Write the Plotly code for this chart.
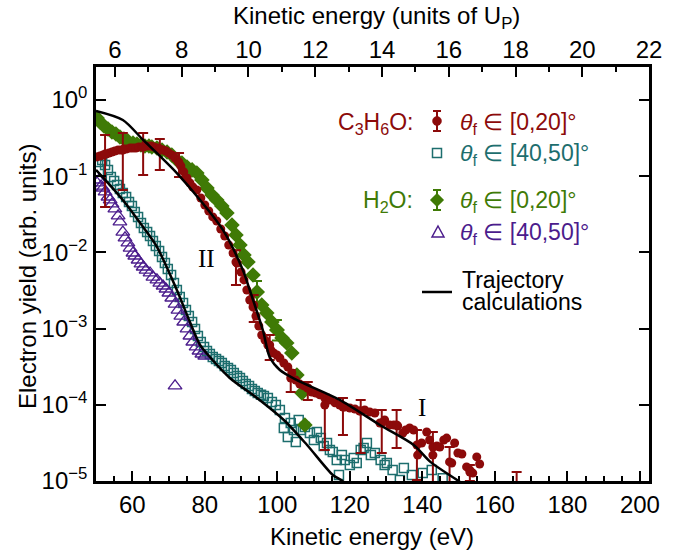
import plotly.graph_objects as go

# ---------------- data ----------------
UP_EV = 9.205  # eV per unit of Up (top axis conversion)

acetone_0_20_E = [50.3, 51.1, 51.9, 52.8, 53.6, 54.4, 55.2, 56.1, 56.9, 57.7, 58.5, 59.4, 60.2, 61.0, 61.8, 62.7,
                  63.5, 64.3, 65.2, 66.0, 66.8, 67.6, 68.5, 69.3, 70.1, 70.9, 71.8, 72.6, 73.4, 74.2, 75.1, 75.9,
                  76.7, 77.8, 78.9, 80.0, 81.1, 82.2, 83.3, 84.4, 85.5, 86.6, 87.8, 88.9, 90.0, 90.8, 91.6, 92.4,
                  93.3, 94.1, 94.9, 95.7, 96.6, 97.4, 98.2, 99.0, 99.9, 100.7, 101.8, 102.9, 104.0, 105.1, 106.2,
                  107.3, 108.4, 109.5, 110.6, 111.7, 113.1, 114.5, 115.9, 117.2, 118.6, 120.0, 121.4, 122.7, 124.1,
                  125.5, 126.9, 128.3, 129.6, 131.0, 132.1, 133.2, 134.6, 135.4, 136.5, 137.6, 138.7, 139.8, 141.2,
                  142.0, 142.9, 144.0, 144.8, 145.9, 146.7, 148.1, 148.9, 149.8, 150.9, 152.2, 153.1, 153.9, 155.0,
                  155.8]
acetone_0_20_Y = [0.179, 0.184, 0.190, 0.195, 0.201, 0.208, 0.214, 0.221, 0.221, 0.228, 0.228, 0.234, 0.234, 0.234,
                  0.242, 0.242, 0.249, 0.249, 0.249, 0.242, 0.234, 0.228, 0.221, 0.214, 0.201, 0.190, 0.173, 0.158,
                  0.136, 0.114, 0.0946, 0.0815, 0.0721, 0.0659, 0.0518, 0.0419, 0.0349, 0.0292, 0.0258, 0.0203,
                  0.0164, 0.0125, 0.00982, 0.00726, 0.00553, 0.00435, 0.00321, 0.00237, 0.00192, 0.00146, 0.00108,
                  8.24e-4, 7.08e-4, 6.10e-4, 5.24e-4, 4.79e-4, 4.51e-4, 4.11e-4, 3.54e-4, 3.13e-4, 2.61e-4, 2.11e-4,
                  1.87e-4, 1.77e-4, 1.66e-4, 1.47e-4, 1.43e-4, 1.35e-4, 1.23e-4, 1.16e-4, 1.06e-4, 9.93e-5, 9.35e-5,
                  9.08e-5, 8.81e-5, 8.30e-5, 8.55e-5, 8.05e-5, 7.80e-5, 5.77e-5, 6.32e-5, 5.43e-5, 5.43e-5, 5.27e-5,
                  4.27e-5, 4.67e-5, 4.96e-5, 4.67e-5, 2.19e-5, 3.15e-5, 4.40e-5, 3.45e-5, 2.79e-5, 2.88e-5, 2.79e-5,
                  3.45e-5, 3.66e-5, 1.72e-5, 3.15e-5, 2.33e-5, 2.26e-5, 1.53e-5, 1.39e-5, 1.27e-5, 2.07e-5, 1.67e-5]

# points of the acetone [0,20] series that carry error bars
acetone_err_E = [52.5, 57.4, 63.0, 67.6, 72.9, 88.6, 93.5, 97.9, 103.7, 108.4, 113.1, 118.1, 123.0, 128.8, 132.9,
                 138.5, 142.9, 147.5, 153.1, 166.0]
acetone_err_Y = [0.195, 0.221, 0.242, 0.228, 0.150, 0.00748, 0.00204, 6.10e-4, 2.25e-4, 1.66e-4, 9.93e-5, 9.35e-5,
                 8.30e-5, 5.77e-5, 5.43e-5, 2.97e-5, 2.19e-5, 1.78e-5, 1.31e-5, 7.5e-6]
acetone_err_top = [0.347, 0.369, 0.369, 0.308, 0.201, 0.0107, 0.00275, 8.24e-4, 2.86e-4, 1.99e-4, 1.35e-4, 1.23e-4,
                   1.16e-4, 8.55e-5, 8.55e-5, 4.67e-5, 4.40e-5, 2.79e-5, 1.62e-5, 1.31e-5]
acetone_err_bottom = [0.0394, 0.0659, 0.104, 0.121, 0.0977, 0.00374, 0.00122, 3.87e-4, 1.47e-4, 1.16e-4, 2.55e-5,
                      4.01e-5, 2.33e-5, 2.33e-5, 2.71e-5, 1.03e-5, 8e-6, 9e-6, 1.0e-5, 5e-6]

acetone_40_50_E = [50.6, 51.7, 52.5, 53.3, 54.1, 55.0, 55.8, 56.6, 57.4, 58.3, 59.1, 59.9, 60.7, 61.6, 62.4, 63.2,
                   64.1, 64.9, 65.7, 66.5, 67.4, 68.2, 69.0, 69.8, 70.7, 71.5, 72.3, 73.1, 74.0, 74.8, 75.6, 76.5,
                   77.3, 78.1, 78.9, 79.8, 80.6, 81.4, 82.2, 83.1, 83.9, 84.7, 85.5, 86.4, 87.2, 88.0, 88.9, 89.7,
                   90.5, 91.3, 92.2, 93.0, 93.8, 94.6, 95.5, 96.3, 97.4, 98.5, 99.6, 100.7, 101.8, 102.1, 102.9,
                   103.7, 104.6, 105.1, 105.9, 106.5, 107.6, 109.0, 110.1, 110.9, 112.0, 112.8, 113.7, 114.5, 115.3,
                   116.4, 117.0, 117.8, 118.6, 120.0, 121.1, 121.9, 123.0, 123.8, 124.7, 125.8, 126.9, 128.5, 129.6,
                   130.2, 131.8, 133.8, 134.9, 137.1, 140.1, 142.6, 145.6]
acetone_40_50_Y = [0.154, 0.163, 0.140, 0.121, 0.0977, 0.0865, 0.0767, 0.0679, 0.0603, 0.0533,
                   0.0458, 0.0406, 0.0339, 0.0292, 0.0243, 0.0209, 0.0185, 0.0164, 0.0141, 0.0121,
                   0.0104, 0.00871, 0.00726, 0.00605, 0.00505, 0.00396, 0.00321, 0.00260, 0.00217, 0.00175,
                   0.00146, 0.00122, 9.89e-4, 8.00e-4, 6.67e-4, 5.74e-4, 5.08e-4, 4.64e-4, 4.24e-4, 3.99e-4,
                   3.76e-4, 3.54e-4, 3.23e-4, 3.04e-4, 2.86e-4, 2.61e-4, 2.39e-4, 2.25e-4, 2.05e-4, 1.87e-4,
                   1.77e-4, 1.61e-4, 1.52e-4, 1.43e-4, 1.35e-4, 1.30e-4, 1.23e-4, 1.09e-4, 9.93e-5, 8.55e-5,
                   4.96e-5, 6.71e-5, 3.78e-5, 5.77e-5, 4.67e-5, 3.25e-5, 6.32e-5, 4.67e-5, 5.11e-5, 4.27e-5,
                   3.45e-5, 4.40e-5, 3.66e-5, 2.88e-5, 3.15e-5, 2.55e-5, 2.40e-5, 1.89e-5, 1.20e-5, 2.19e-5,
                   1.89e-5, 1.62e-5, 2.00e-5, 1.72e-5, 2.55e-5, 2.71e-5, 3.15e-5, 2.19e-5, 2.33e-5, 1.89e-5,
                   1.62e-5, 1.72e-5, 1.39e-5, 1.03e-5, 1.48e-5, 1.20e-5, 1.27e-5, 1.39e-5, 1.09e-5]

water_0_20_E = [50.3, 51.1, 52.2, 53.3, 54.4, 55.5, 56.6, 57.7, 58.8, 60.2, 61.3, 62.4, 63.5, 64.6, 65.4, 66.8,
                68.2, 69.6, 70.9, 72.3, 73.7, 75.1, 76.5, 77.8, 79.2, 80.6, 82.0, 83.3, 84.7, 86.1, 87.5, 88.6,
                89.7, 90.8, 91.9, 93.3, 94.4, 95.7, 97.1, 98.5, 99.9, 101.3, 102.6, 104.0, 105.4, 106.8, 107.6]
water_0_20_Y = [0.580, 0.514, 0.456, 0.416, 0.380, 0.358, 0.327, 0.308, 0.290, 0.273, 0.265, 0.257, 0.249, 0.249,
                0.242, 0.234, 0.221, 0.208, 0.190, 0.163, 0.149, 0.132, 0.121, 0.110, 0.0891, 0.0700, 0.0566,
                0.0488, 0.0406, 0.0329, 0.0229, 0.0169, 0.0125, 0.00925, 0.00748, 0.00505, 0.00302, 0.00204,
                0.00160, 0.00122, 9.59e-4, 7.53e-4, 6.47e-4, 4.79e-4, 2.46e-4, 1.43e-4, 5.43e-5]

water_err_E = [94.4, 99.9]
water_err_Y = [0.00302, 9.59e-4]
water_err_top = [0.0042, 0.00130]
water_err_bottom = [0.0021, 7.0e-4]

water_40_50_E = [50.3, 50.8, 51.4, 51.9, 52.5, 53.3, 53.9, 54.4, 55.2, 56.1, 56.6, 57.4, 58.0, 58.8, 59.4, 60.2,
                 60.7, 61.6, 62.4, 63.0, 63.8, 64.9, 65.7, 66.8, 67.6, 68.5, 69.3, 70.1, 70.9, 71.8, 72.6, 73.4,
                 74.2, 75.1, 75.9, 76.7, 77.6, 78.4, 79.2, 80.0, 71.8]
water_40_50_Y = [0.0815, 0.0891, 0.0743, 0.0700, 0.0621, 0.0533, 0.0488, 0.0432, 0.0372, 0.0301,
                 0.0251, 0.0185, 0.0155, 0.0133, 0.0114, 0.00982, 0.00897, 0.00795, 0.00705, 0.00643,
                 0.00587, 0.00537, 0.00475, 0.00435, 0.00396, 0.00362, 0.00331, 0.00293, 0.00252, 0.00210,
                 0.00175, 0.00146, 0.00122, 9.89e-4, 8.00e-4, 6.67e-4, 5.74e-4, 5.08e-4, 4.64e-4, 4.37e-4,
                 1.77e-4]

traj_upper_E = [50.0, 57.4, 63.0, 66.8, 72.3, 78.7, 85.0, 90.5, 92.4, 96.0, 97.9, 100.7, 105.4, 117.2, 128.3,
                137.6, 142.3, 150.0, 152.0]
traj_upper_Y = [0.72, 0.547, 0.299, 0.201, 0.110, 0.0488, 0.0197, 0.00587, 0.00321, 9.59e-4, 4.24e-4, 2.86e-4,
                2.11e-4, 1.16e-4, 5.43e-5, 2.97e-5, 1.77e-5, 1.0e-5, 8.5e-6]
traj_lower_E = [50.0, 57.4, 63.0, 66.8, 72.3, 75.9, 78.7, 81.4, 86.9, 94.4, 101.8, 108.2, 115.3, 118.0, 119.5]
traj_lower_Y = [0.121, 0.0488, 0.0215, 0.0118, 0.00321, 0.00122, 6.10e-4, 4.24e-4, 2.25e-4, 1.23e-4, 6.32e-5,
                2.97e-5, 1.20e-5, 1.0e-5, 8.5e-6]

x_ticks_eV = [60, 80, 100, 120, 140, 160, 180, 200]
x_ticks_up = [6, 8, 10, 12, 14, 16, 18, 20, 22]
y_tick_vals = [1e-5, 1e-4, 1e-3, 1e-2, 1e-1, 1]
y_tick_text = ["10<sup>\u22125</sup>", "10<sup>\u22124</sup>", "10<sup>\u22123</sup>",
               "10<sup>\u22122</sup>", "10<sup>\u22121</sup>", "10<sup>0</sup>"]

# ---------------- styling ----------------
RED = "#8c0a0a"
TEAL = "#1d6e6e"
GREEN = "#3f7a06"
PURPLE = "#4b1c8c"
FONT = "Liberation Sans, Arial, Helvetica, sans-serif"

W, H = 680, 552
L, R, T, B = 96, 649, 67, 481
X_RANGE = [50, 202.5]
Y_RANGE = [-5, 0.433]


def pxx(x):
    return (x - L) / (R - L)


def pxy(y):
    return (B - y) / (B - T)


fig = go.Figure()

fig.add_trace(go.Scatter(x=acetone_40_50_E, y=acetone_40_50_Y, mode="markers",
                         marker=dict(symbol="square-open", size=9, color=TEAL, line=dict(width=1.5, color=TEAL)),
                         showlegend=False))
fig.add_trace(go.Scatter(x=water_40_50_E, y=water_40_50_Y, mode="markers",
                         marker=dict(symbol="triangle-up-open", size=12, color=PURPLE,
                                     line=dict(width=1.3, color=PURPLE)),
                         showlegend=False))
fig.add_trace(go.Scatter(x=water_0_20_E, y=water_0_20_Y, mode="markers",
                         marker=dict(symbol="diamond", size=12, color=GREEN, line=dict(width=0)),
                         showlegend=False))
fig.add_trace(go.Scatter(x=water_err_E, y=water_err_Y, mode="markers",
                         marker=dict(symbol="diamond", size=12, color=GREEN, line=dict(width=0)),
                         error_y=dict(type="data", symmetric=False,
                                      array=[t - v for t, v in zip(water_err_top, water_err_Y)],
                                      arrayminus=[v - b for v, b in zip(water_err_Y, water_err_bottom)],
                                      color=GREEN, thickness=2, width=5),
                         showlegend=False))
fig.add_trace(go.Scatter(x=acetone_0_20_E, y=acetone_0_20_Y, mode="markers",
                         marker=dict(symbol="circle", size=9, color=RED, line=dict(width=0)),
                         showlegend=False))
fig.add_trace(go.Scatter(x=acetone_err_E, y=acetone_err_Y, mode="markers",
                         marker=dict(symbol="circle", size=9, color=RED, line=dict(width=0)),
                         error_y=dict(type="data", symmetric=False,
                                      array=[t - v for t, v in zip(acetone_err_top, acetone_err_Y)],
                                      arrayminus=[v - b for v, b in zip(acetone_err_Y, acetone_err_bottom)],
                                      color=RED, thickness=2, width=5),
                         showlegend=False))
for xs, ys in ((traj_upper_E, traj_upper_Y), (traj_lower_E, traj_lower_Y)):
    fig.add_trace(go.Scatter(x=xs, y=ys, mode="lines",
                             line=dict(color="black", width=2.5, shape="spline", smoothing=0.8),
                             showlegend=False))

# helper trace so that the top (Up) axis is drawn
fig.add_trace(go.Scatter(x=x_ticks_up, y=[None] * len(x_ticks_up), xaxis="x2", mode="markers",
                         showlegend=False, hoverinfo="skip"))

axis_common = dict(showline=True, linecolor="black", linewidth=2.5, ticks="inside", tickcolor="black",
                   tickwidth=2, showgrid=False, zeroline=False,
                   tickfont=dict(family=FONT, size=24, color="black"))

fig.update_layout(
    width=W, height=H,
    margin=dict(l=L, r=W - R, t=T, b=H - B, pad=0),
    paper_bgcolor="white", plot_bgcolor="white",
    font=dict(family=FONT, color="black"),
    xaxis=dict(range=X_RANGE, tickvals=x_ticks_eV, ticklen=10,
               minor=dict(dtick=5, tick0=0, ticklen=5, ticks="inside", tickcolor="black", tickwidth=2),
               **axis_common),
    xaxis2=dict(range=[X_RANGE[0] / UP_EV, X_RANGE[1] / UP_EV], overlaying="x", side="top", anchor="y",
                tickvals=x_ticks_up, ticklen=10, ticklabelstandoff=-3,
                minor=dict(dtick=1, tick0=0, ticklen=5, ticks="inside", tickcolor="black", tickwidth=2),
                **axis_common),
    yaxis=dict(type="log", range=Y_RANGE, tickvals=y_tick_vals, ticktext=y_tick_text, ticklen=10,
               mirror="ticks", ticklabelstandoff=1, **axis_common),
)

ann = []


def add_text(text, x, y, size=23, color="black", xanchor="center", family=FONT, angle=0):
    ann.append(dict(text=text, x=pxx(x), y=pxy(y), xref="paper", yref="paper", showarrow=False,
                    xanchor=xanchor, yanchor="middle", textangle=angle,
                    font=dict(family=family, size=size, color=color)))


# axis titles
add_text("Kinetic energy (eV)", 372, 536, size=24)
add_text("Kinetic energy (units of U<sub>P</sub>)", 376, 18, size=24)
add_text("Electron yield (arb. units)", 27, 277, size=24, angle=-90)

# legend text
add_text("C<sub>3</sub>H<sub>6</sub>O:", 415, 123, color=RED, xanchor="right")
add_text("<i>\u03b8</i><sub>f</sub> \u2208 [0,20]\u00b0", 458, 123, color=RED, xanchor="left")
add_text("<i>\u03b8</i><sub>f</sub> \u2208 [40,50]\u00b0", 458, 155, color=TEAL, xanchor="left")
add_text("H<sub>2</sub>O:", 415, 201, color=GREEN, xanchor="right")
add_text("<i>\u03b8</i><sub>f</sub> \u2208 [0,20]\u00b0", 458, 201, color=GREEN, xanchor="left")
add_text("<i>\u03b8</i><sub>f</sub> \u2208 [40,50]\u00b0", 458, 233, color=PURPLE, xanchor="left")
add_text("Trajectory", 460, 280, xanchor="left")
add_text("calculations", 460, 302, xanchor="left")

# region labels
add_text("II", 206, 258, size=25, family="Liberation Serif, Times New Roman, serif")
add_text("I", 422, 407, size=25, family="Liberation Serif, Times New Roman, serif")

shapes = []


def seg(x0, y0, x1, y1, color, width=2):
    shapes.append(dict(type="line", xref="paper", yref="paper", x0=pxx(x0), y0=pxy(y0), x1=pxx(x1), y1=pxy(y1),
                       line=dict(color=color, width=width)))


def poly(points, color, fill):
    path = "M " + " L ".join(f"{pxx(a):.5f},{pxy(b):.5f}" for a, b in points) + " Z"
    shapes.append(dict(type="path", xref="paper", yref="paper", path=path,
                       line=dict(color=color, width=1.5), fillcolor=fill))


def errglyph(cx, cy, color, marker):
    seg(cx, cy - 10, cx, cy + 10, color)
    seg(cx - 4, cy - 10, cx + 4, cy - 10, color)
    seg(cx - 4, cy + 10, cx + 4, cy + 10, color)
    if marker == "circle":
        shapes.append(dict(type="circle", xref="paper", yref="paper", x0=pxx(cx - 4.5), x1=pxx(cx + 4.5),
                           y0=pxy(cy + 4.5), y1=pxy(cy - 4.5), line=dict(color=color, width=0.5), fillcolor=color))
    else:
        poly([(cx, cy - 6), (cx + 6, cy), (cx, cy + 6), (cx - 6, cy)], color, color)


errglyph(437, 121, RED, "circle")
poly([(432.5, 148.5), (441.5, 148.5), (441.5, 157.5), (432.5, 157.5)], TEAL, "rgba(0,0,0,0)")
errglyph(437, 200, GREEN, "diamond")
poly([(438, 226), (444, 237), (432, 237)], PURPLE, "rgba(0,0,0,0)")
seg(422, 292, 452, 292, "black", 2.5)

fig.update_layout(annotations=ann, shapes=shapes)

fig.write_html("out.html")
